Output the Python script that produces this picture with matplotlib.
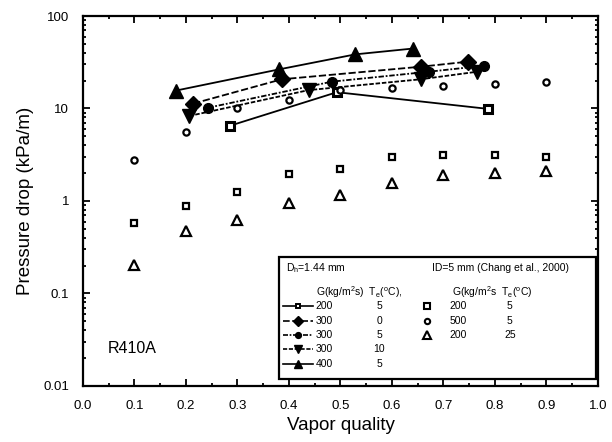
import matplotlib
matplotlib.use('Agg')
import matplotlib.pyplot as plt
import numpy as np
from matplotlib.ticker import FixedLocator, LogLocator, NullFormatter, MultipleLocator

plt.rcParams['font.family'] = ['Liberation Sans', 'DejaVu Sans']

# microchannel data, D_h = 1.44 mm
x_g200_t5 = [0.285, 0.493, 0.787]
y_g200_t5 = [6.5, 15.0, 9.9]
x_g300_t0 = [0.214, 0.386, 0.656, 0.748]
y_g300_t0 = [11.3, 20.7, 28.3, 32.1]
x_g300_t5 = [0.243, 0.483, 0.672, 0.779]
y_g300_t5 = [10.2, 19.5, 25.0, 29.0]
x_g300_t10 = [0.206, 0.438, 0.656, 0.766]
y_g300_t10 = [8.3, 15.8, 20.7, 25.0]
x_g400_t5 = [0.18, 0.381, 0.529, 0.641]
y_g400_t5 = [15.6, 26.5, 38.5, 44.5]

# Chang et al. (2000), ID = 5 mm
x_chang = [0.1, 0.2, 0.3, 0.4, 0.5, 0.6, 0.7, 0.8, 0.9]
y_chang_g200_t5 = [0.58, 0.88, 1.26, 1.96, 2.22, 2.97, 3.14, 3.14, 3.01]
y_chang_g500_t5 = [2.77, 5.57, 10.2, 12.4, 15.8, 16.8, 17.6, 18.4, 19.3]
y_chang_g200_t25 = [0.203, 0.47, 0.63, 0.94, 1.16, 1.55, 1.91, 1.99, 2.11]

micro_G = ['200', '300', '300', '300', '400']
micro_T = ['5', '0', '5', '10', '5']
chang_G = ['200', '500', '200']
chang_T = ['5', '5', '25']
x_ticks = [0.0, 0.1, 0.2, 0.3, 0.4, 0.5, 0.6, 0.7, 0.8, 0.9, 1.0]

fig = plt.figure(figsize=(6.12, 4.42), dpi=100)
ax = fig.add_axes([0.1356, 0.1267, 0.8415, 0.8371])

micro = [
    (x_g200_t5, y_g200_t5, dict(marker='s', ms=6, mfc='white', mew=2.2, ls='-')),
    (x_g300_t0, y_g300_t0, dict(marker='D', ms=8, mfc='black', ls=(0, (4, 1.5)))),
    (x_g300_t5, y_g300_t5, dict(marker='o', ms=7, mfc='black', ls=(0, (3, 1, 1, 1)))),
    (x_g300_t10, y_g300_t10, dict(marker='v', ms=10, mfc='black', ls=(0, (2.5, 1)))),
    (x_g400_t5, y_g400_t5, dict(marker='^', ms=10, mfc='black', ls='-')),
]
for xs, ys, st in micro:
    ax.plot(xs, ys, color='black', lw=1.3, mec='black', **st)

chang = [
    (y_chang_g200_t5, dict(marker='s', ms=4.5, mew=1.6)),
    (y_chang_g500_t5, dict(marker='o', ms=4.5, mew=1.6)),
    (y_chang_g200_t25, dict(marker='^', ms=6.5, mew=1.6)),
]
for ys, st in chang:
    ax.plot(x_chang, ys, ls='none', color='black', mfc='white', mec='black', **st)

ax.set_yscale('log')
ax.set_xlim(0, 1.0)
ax.set_ylim(0.01, 100)
ax.xaxis.set_major_locator(FixedLocator(x_ticks))
ax.xaxis.set_minor_locator(MultipleLocator(0.05))
ax.set_xticklabels([f'{v:.1f}' for v in x_ticks])
ax.yaxis.set_major_locator(FixedLocator([0.01, 0.1, 1, 10, 100]))
ax.set_yticklabels(['0.01', '0.1', '1', '10', '100'])
ax.yaxis.set_minor_locator(LogLocator(base=10, subs=np.arange(2, 10)))
ax.yaxis.set_minor_formatter(NullFormatter())
ax.tick_params(which='both', direction='in', top=True, right=True, width=1.3,
               labelsize=9.5, pad=10)
ax.tick_params(which='major', length=5)
ax.tick_params(which='minor', length=2.5)
for sp in ax.spines.values():
    sp.set_linewidth(1.6)

ax.set_xlabel('Vapor quality', fontsize=13.5, labelpad=4)
ax.set_ylabel('Pressure drop (kPa/m)', fontsize=13.5, labelpad=7)
ax.text(0.048, 0.09, 'R410A', transform=ax.transAxes, fontsize=11.5)

# legend box drawn by hand to get the two-part layout
box = plt.Rectangle((0.381, 0.019), 0.615, 0.33, transform=ax.transAxes,
                    fill=True, facecolor='white', edgecolor='black', lw=1.6, zorder=5)
ax.add_patch(box)
fs = 7.5
ax.text(0.395, 0.319, r'D$_\mathregular{h}$=1.44 mm', transform=ax.transAxes, fontsize=fs, va='center', zorder=6)
ax.text(0.678, 0.319, 'ID=5 mm (Chang et al., 2000)', transform=ax.transAxes, fontsize=fs, va='center', zorder=6)
ax.text(0.452, 0.254, r'G(kg/m$^\mathregular{2}$s)  T$_\mathregular{e}$($^\mathregular{o}$C),',
        transform=ax.transAxes, fontsize=fs, va='center', zorder=6)
ax.text(0.717, 0.254, r'G(kg/m$^\mathregular{2}$s  T$_\mathregular{e}$($^\mathregular{o}$C)',
        transform=ax.transAxes, fontsize=fs, va='center', zorder=6)

rows = [0.216, 0.177, 0.138, 0.099, 0.059]
for (xs, ys, st), g, t, ry in zip(micro, micro_G, micro_T, rows):
    ax.plot([0.388, 0.447], [ry, ry], transform=ax.transAxes, color='black', lw=1.2,
            clip_on=False, zorder=6, ls=st['ls'])
    ax.plot([0.417], [ry], transform=ax.transAxes, color='black', mec='black', clip_on=False,
            zorder=7, ls='none', marker=st['marker'], ms=st['ms'] * 0.6, mfc=st['mfc'],
            mew=1.4 if 'mew' in st else 1)
    ax.text(0.452, ry, g, transform=ax.transAxes, fontsize=fs, va='center', zorder=6)
    ax.text(0.575, ry, t, transform=ax.transAxes, fontsize=fs, va='center', ha='center', zorder=6)

for (ys, st), g, t, ry in zip(chang, chang_G, chang_T, rows):
    ax.plot([0.668], [ry], transform=ax.transAxes, ls='none', color='black', mfc='white',
            mec='black', marker=st['marker'], ms=st['ms'] * 0.85, mew=1.5, clip_on=False, zorder=6)
    ax.text(0.711, ry, g, transform=ax.transAxes, fontsize=fs, va='center', zorder=6)
    ax.text(0.829, ry, t, transform=ax.transAxes, fontsize=fs, va='center', ha='center', zorder=6)

fig.savefig('out.png', dpi=100)
